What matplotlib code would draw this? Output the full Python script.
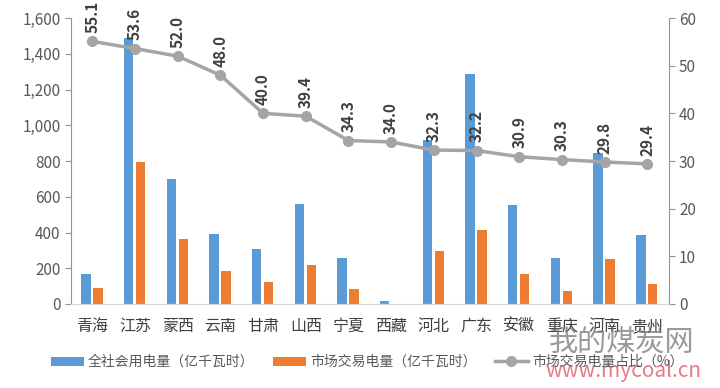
import numpy as np
import matplotlib.pyplot as plt

plt.rcParams['font.family'] = ['Noto Sans CJK SC', 'DejaVu Sans']

provinces = ["青海", "江苏", "蒙西", "云南", "甘肃", "山西", "宁夏",
             "西藏", "河北", "广东", "安徽", "重庆", "河南", "贵州"]
total_use = [168, 1487, 699, 391, 307, 559, 257, 17, 917, 1286, 553, 257, 844, 386]
market_trade = [89, 794, 363, 184, 123, 218, 86, 0, 296, 414, 168, 73, 252, 112]
market_share = [55.1, 53.6, 52.0, 48.0, 40.0, 39.4, 34.3, 34.0, 32.3, 32.2, 30.9, 30.3, 29.8, 29.4]

blue = '#5b9bd5'
orange = '#ed7d31'
grey = '#a5a5a5'
tick_col = '#595959'
spine_col = '#8497b0'

fig = plt.figure(figsize=(7.2, 3.88), dpi=100)
ax = fig.add_axes([0.0986, 0.2165, 0.830, 0.737])
ax2 = ax.twinx()

x = np.arange(len(provinces))
w = 0.22
b1 = ax.bar(x - 0.15, total_use, width=w, color=blue, label='全社会用电量（亿千瓦时）')
b2 = ax.bar(x + 0.13, market_trade, width=w, color=orange, label='市场交易电量（亿千瓦时）')

ln, = ax2.plot(x, market_share, color=grey, lw=2.5, marker='o', ms=7,
               label='市场交易电量占比（%）')
for xi, v in zip(x, market_share):
    ax2.annotate(f'{v:.1f}', (xi, v), xytext=(0, 6), textcoords='offset points',
                 rotation=90, ha='center', va='bottom', fontsize=11,
                 fontweight='bold', color='#404040', annotation_clip=False)

ax.set_xlim(-0.5, len(provinces) - 0.5)
ax.set_ylim(0, 1600)
ax2.set_ylim(0, 60)
ax.set_yticks(range(0, 1601, 200))
ax.set_yticklabels([f'{v:,}' for v in range(0, 1601, 200)])
ax2.set_yticks(range(0, 61, 10))

ax.set_xticks(x)
ax.set_xticklabels(provinces, fontsize=11.5, color='#404040')
ax.tick_params(axis='x', length=0, pad=10)
ax.tick_params(axis='y', labelsize=11, colors=tick_col, color=spine_col, length=4)
ax2.tick_params(axis='y', labelsize=11, colors=tick_col, color=spine_col, length=4)

for a in (ax, ax2):
    a.spines['top'].set_visible(False)
    a.spines['left'].set_color(spine_col)
    a.spines['right'].set_color(spine_col)
    a.spines['bottom'].set_color('#d9d9d9')
ax.spines['right'].set_visible(False)
ax2.spines['left'].set_visible(False)

fig.legend([b1, b2, ln], [b1.get_label(), b2.get_label(), ln.get_label()],
           loc='center', bbox_to_anchor=(0.51, 0.067), ncol=3, frameon=False,
           fontsize=10, handlelength=2.4, handleheight=0.6, handletextpad=0.3,
           columnspacing=1.3, labelcolor='#595959')

# watermark
fig.text(0.762, 0.115, '我的煤炭网', fontsize=21, color='#707070', alpha=0.7,
         ha='left', va='center')
fig.text(0.758, 0.045, 'www.mycoal.cn', fontsize=15, color='#e05a6a', alpha=0.8,
         ha='left', va='center')

fig.savefig('out.png', dpi=100)
